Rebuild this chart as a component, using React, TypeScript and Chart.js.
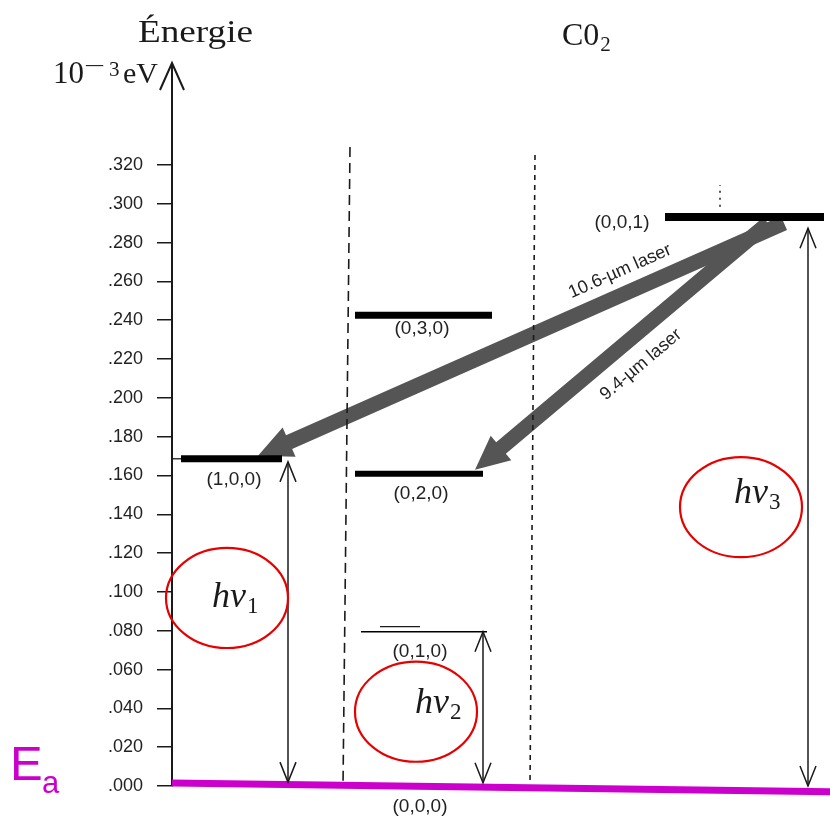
import React, { useEffect, useRef } from 'react';
import { Chart, registerables } from 'chart.js';

Chart.register(...registerables);

// ---------------- data ----------------
const Y_TICKS = [0, 0.02, 0.04, 0.06, 0.08, 0.1, 0.12, 0.14, 0.16, 0.18, 0.2, 0.22, 0.24, 0.26, 0.28, 0.3, 0.32];
const Y_TICK_LABELS = ['.000', '.020', '.040', '.060', '.080', '.100', '.120', '.140', '.160', '.180', '.200', '.220', '.240', '.260', '.280', '.300', '.320'];
const Y_MIN = 0;
const Y_MAX = 0.3715;
const X_MIN = 0;
const X_MAX = 658;

const LEVEL_LABELS = ['(1,0,0)', '(0,2,0)', '(0,3,0)', '(0,1,0)', '(0,0,1)'];
const LEVEL_ENERGY = [0.1686, 0.1609, 0.2425, 0.0795, 0.2932];
const LEVEL_X_FROM = [9, 183, 183, 189, 493];
const LEVEL_X_TO = [110, 311, 320, 315, 652];
const LEVEL_LABEL_X = [62, 249, 250, 248, 450];
const LEVEL_LABEL_E = [0.1578, 0.1506, 0.2357, 0.0693, 0.2904];

const GROUND_LABEL = '(0,0,0)';
const GROUND_X = [0, 658];
const GROUND_E = [0.0015, -0.003];
const GROUND_LABEL_X = 248;
const GROUND_LABEL_E = -0.0105;

const SEP_X_TOP = [178, 363];
const SEP_E_TOP = [0.3293, 0.3251];
const SEP_X_BOTTOM = [171, 358];
const SEP_E_BOTTOM = [0, 0];

const LASER_LABELS = ['10.6-µm laser', '9.4-µm laser'];
const LASER_FROM_X = [612, 596];
const LASER_FROM_E = [0.29, 0.29];
const LASER_TO_X = [86, 303];
const LASER_TO_E = [0.1701, 0.1629];
const LASER_LABEL_X = [448, 469];
const LASER_LABEL_E = [0.2652, 0.2171];

const HV_SUBSCRIPTS = ['1', '2', '3'];
const HV_X = [116, 311, 636];
const HV_E_LOW = [0.002, 0.0017, 0.0];
const HV_E_HIGH = [0.167, 0.0795, 0.2874];
const HV_LABEL_X = [40, 243, 562];
const HV_LABEL_E = [0.0921, 0.0378, 0.1459];

const ELLIPSE_X = [55, 244, 569];
const ELLIPSE_E = [0.0969, 0.0383, 0.1437];
const ELLIPSE_RX = 61;
const ELLIPSE_RY = 0.0258;

// small extra strokes from the scan
const STUB_X = [[0, 9], [208, 248]];
const STUB_E = [[0.1686, 0.1686], [0.0821, 0.0821]];
const MARK_X = [548, 548];
const MARK_E = [0.2984, 0.3097];

// ---------------- styles ----------------
const LEVEL_WIDTH = [7, 6, 7, 1.5, 8];
const INK = '#1a1a1a';
const MAGENTA = '#cc00cc';
const RED = '#e60000';
const LASER_GRAY = '#555555';

function fatArrow(ctx: CanvasRenderingContext2D, sx: number, sy: number, tx: number, ty: number, w: number, L: number, H: number) {
  const dx = tx - sx, dy = ty - sy;
  const len = Math.hypot(dx, dy);
  const ux = dx / len, uy = dy / len;
  const nx = -uy, ny = ux;
  const bx = tx - ux * L, by = ty - uy * L;
  ctx.beginPath();
  ctx.moveTo(sx + nx * w / 2, sy + ny * w / 2);
  ctx.lineTo(bx + nx * w / 2, by + ny * w / 2);
  ctx.lineTo(bx + nx * H, by + ny * H);
  ctx.lineTo(tx, ty);
  ctx.lineTo(bx - nx * H, by - ny * H);
  ctx.lineTo(bx - nx * w / 2, by - ny * w / 2);
  ctx.lineTo(sx - nx * w / 2, sy - ny * w / 2);
  ctx.closePath();
  ctx.fill();
}

function openHead(ctx: CanvasRenderingContext2D, tx: number, ty: number, dirX: number, dirY: number, L: number, H: number) {
  const len = Math.hypot(dirX, dirY);
  const ux = dirX / len, uy = dirY / len;
  const nx = -uy, ny = ux;
  const bx = tx - ux * L, by = ty - uy * L;
  ctx.beginPath();
  ctx.moveTo(bx + nx * H, by + ny * H);
  ctx.lineTo(tx, ty);
  ctx.lineTo(bx - nx * H, by - ny * H);
  ctx.stroke();
}

const diagramPlugin = {
  id: 'diagram',
  beforeDatasetsDraw(chart: any) {
    const ctx: CanvasRenderingContext2D = chart.ctx;
    const xs = chart.scales.x, ys = chart.scales.y;
    ctx.save();
    ctx.fillStyle = LASER_GRAY;
    for (let i = 0; i < LASER_LABELS.length; i++) {
      fatArrow(
        ctx,
        xs.getPixelForValue(LASER_FROM_X[i]), ys.getPixelForValue(LASER_FROM_E[i]),
        xs.getPixelForValue(LASER_TO_X[i]), ys.getPixelForValue(LASER_TO_E[i]),
        15, 34, 16
      );
    }
    ctx.restore();
  },
  afterDatasetsDraw(chart: any) {
    const ctx: CanvasRenderingContext2D = chart.ctx;
    const xs = chart.scales.x, ys = chart.scales.y;
    const px = (v: number) => xs.getPixelForValue(v);
    const py = (v: number) => ys.getPixelForValue(v);
    const area = chart.chartArea;
    ctx.save();

    // y axis arrow head
    ctx.strokeStyle = INK;
    ctx.lineWidth = 2;
    openHead(ctx, area.left, area.top - 2, 0, -1, 27, 12);

    // hv double arrow heads
    ctx.lineWidth = 1.5;
    for (let i = 0; i < HV_X.length; i++) {
      const x = px(HV_X[i]);
      openHead(ctx, x, py(HV_E_HIGH[i]), 0, -1, 20, 8);
      openHead(ctx, x, py(HV_E_LOW[i]), 0, 1, 20, 8);
    }

    // laser labels
    ctx.fillStyle = '#222';
    ctx.font = "18px 'Liberation Sans', Arial, sans-serif";
    ctx.textAlign = 'center';
    ctx.textBaseline = 'middle';
    for (let i = 0; i < LASER_LABELS.length; i++) {
      const ang = Math.atan2(
        py(LASER_TO_E[i]) - py(LASER_FROM_E[i]),
        px(LASER_TO_X[i]) - px(LASER_FROM_X[i])
      );
      ctx.save();
      ctx.translate(px(LASER_LABEL_X[i]), py(LASER_LABEL_E[i]));
      ctx.rotate(ang - Math.PI);
      ctx.fillText(LASER_LABELS[i], 0, 0);
      ctx.restore();
    }

    // level labels
    ctx.font = "19px 'Liberation Sans', Arial, sans-serif";
    for (let i = 0; i < LEVEL_LABELS.length; i++) {
      ctx.fillText(LEVEL_LABELS[i], px(LEVEL_LABEL_X[i]), py(LEVEL_LABEL_E[i]));
    }
    ctx.fillText(GROUND_LABEL, px(GROUND_LABEL_X), py(GROUND_LABEL_E));

    // ellipses
    ctx.strokeStyle = RED;
    ctx.lineWidth = 2.2;
    for (let i = 0; i < ELLIPSE_X.length; i++) {
      const cx = px(ELLIPSE_X[i]);
      const cy = py(ELLIPSE_E[i]);
      const rx = px(ELLIPSE_X[i] + ELLIPSE_RX) - cx;
      const ry = py(ELLIPSE_E[i] - ELLIPSE_RY) - cy;
      ctx.beginPath();
      ctx.ellipse(cx, cy, rx, ry, 0, 0, Math.PI * 2);
      ctx.stroke();
    }

    // h nu labels
    ctx.fillStyle = INK;
    ctx.textAlign = 'left';
    ctx.textBaseline = 'alphabetic';
    for (let i = 0; i < HV_SUBSCRIPTS.length; i++) {
      const x = px(HV_LABEL_X[i]);
      const y = py(HV_LABEL_E[i]);
      ctx.font = "italic 36px 'Liberation Serif', serif";
      ctx.fillText('hν', x, y);
      const w = ctx.measureText('hν').width;
      ctx.font = "23px 'Liberation Serif', serif";
      ctx.fillText(HV_SUBSCRIPTS[i], x + w + 1, y + 6);
    }

    // titles
    ctx.fillStyle = INK;
    ctx.save();
    ctx.translate(138, 42);
    ctx.scale(1.2, 1);
    ctx.font = "31px 'Liberation Serif', serif";
    ctx.fillText('Énergie', 0, 0);
    ctx.restore();

    ctx.font = "32px 'Liberation Serif', serif";
    ctx.fillText('C0', 562, 45);
    const wc = ctx.measureText('C0').width;
    ctx.font = "21px 'Liberation Serif', serif";
    ctx.fillText('2', 562 + wc + 1, 51);

    // unit 10^-3 eV
    ctx.font = "31px 'Liberation Serif', serif";
    ctx.fillText('10', 53, 83);
    ctx.save();
    ctx.translate(84, 73);
    ctx.scale(1.7, 1);
    ctx.font = "22px 'Liberation Serif', serif";
    ctx.fillText('−', 0, 0);
    ctx.restore();
    ctx.font = "21px 'Liberation Serif', serif";
    ctx.fillText('3', 109, 76);
    ctx.font = "30px 'Liberation Serif', serif";
    ctx.fillText('eV', 123, 83);

    // E_a
    ctx.fillStyle = MAGENTA;
    ctx.font = "49px 'Liberation Sans', Arial, sans-serif";
    ctx.fillText('E', 10, 780);
    ctx.font = "31px 'Liberation Sans', Arial, sans-serif";
    ctx.fillText('a', 42, 793);

    ctx.restore();
  },
};

function seg(xa: number[], ea: number[]) {
  return xa.map((x, i) => ({ x, y: ea[i] }));
}

export default function App() {
  const ref = useRef<HTMLCanvasElement | null>(null);

  useEffect(() => {
    if (!ref.current) return;
    const base = { type: 'line' as const, pointRadius: 0, fill: false, tension: 0, borderCapStyle: 'butt' as const, clip: false as any };
    const datasets: any[] = [];

    LEVEL_LABELS.forEach((lab, i) => {
      datasets.push({
        ...base,
        label: lab,
        data: seg([LEVEL_X_FROM[i], LEVEL_X_TO[i]], [LEVEL_ENERGY[i], LEVEL_ENERGY[i]]),
        borderColor: '#000',
        borderWidth: LEVEL_WIDTH[i],
      });
    });
    STUB_X.forEach((sx, i) => {
      datasets.push({ ...base, label: 'stub' + i, data: seg(sx, STUB_E[i]), borderColor: INK, borderWidth: 1.3 });
    });
    datasets.push({ ...base, label: 'mark', data: seg(MARK_X, MARK_E), borderColor: INK, borderWidth: 1.5, borderDash: [2, 5] });
    datasets.push({ ...base, label: GROUND_LABEL, data: seg(GROUND_X, GROUND_E), borderColor: MAGENTA, borderWidth: 7 });
    SEP_X_TOP.forEach((xt, i) => {
      datasets.push({
        ...base,
        label: 'sep' + i,
        data: seg([xt, SEP_X_BOTTOM[i]], [SEP_E_TOP[i], SEP_E_BOTTOM[i]]),
        borderColor: INK,
        borderWidth: 1.6,
        borderDash: i === 0 ? [10, 6] : [5, 5],
      });
    });
    HV_X.forEach((x, i) => {
      datasets.push({ ...base, label: 'hv' + HV_SUBSCRIPTS[i], data: seg([x, x], [HV_E_LOW[i], HV_E_HIGH[i]]), borderColor: INK, borderWidth: 1.5 });
    });

    const chart = new Chart(ref.current, {
      type: 'line',
      data: { datasets },
      options: {
        animation: false,
        responsive: false,
        devicePixelRatio: 1,
        layout: { padding: { top: 65, bottom: 32, left: 0, right: 0 } },
        plugins: { legend: { display: false }, tooltip: { enabled: false } },
        scales: {
          x: { type: 'linear', display: false, min: X_MIN, max: X_MAX },
          y: {
            type: 'linear',
            min: Y_MIN,
            max: Y_MAX,
            afterFit: (s: any) => { s.width = 172; },
            afterBuildTicks: (s: any) => { s.ticks = Y_TICKS.map((v) => ({ value: v })); },
            ticks: {
              callback: (_v: any, i: number) => Y_TICK_LABELS[i],
              font: { family: "'Liberation Sans', Arial, sans-serif", size: 18 },
              color: '#222',
              padding: 14,
            },
            grid: { drawOnChartArea: false, drawTicks: true, tickLength: 15, color: INK, lineWidth: 1.5 },
            border: { display: true, color: INK, width: 2 },
          },
        },
      },
      plugins: [diagramPlugin],
    });
    return () => chart.destroy();
  }, []);

  return (
    <div style={{ position: 'fixed', left: 0, top: 0, width: 830, height: 818, background: '#fff' }}>
      <canvas ref={ref} width={830} height={818} style={{ display: 'block' }} />
    </div>
  );
}
